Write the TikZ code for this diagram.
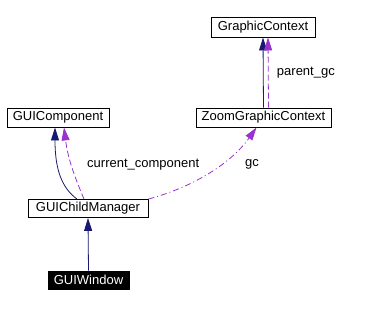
\documentclass[tikz,border=0pt]{standalone}
\usepackage{fontspec}
\setmainfont{Liberation Sans}
\usetikzlibrary{arrows.meta}
\definecolor{navyedge}{HTML}{191970}
\definecolor{usedge}{HTML}{9A32CD}
\tikzset{
  cbox/.style={rectangle, draw=black, fill=white, line width=0.9pt,
               font=\fontsize{13}{15}\selectfont,
               inner sep=0pt, minimum height=19pt},
  cboxH/.style={cbox, fill=black, text=white},
  inh/.style={-{Triangle[length=13pt,width=8pt]}, navyedge, line width=0.8pt},
  usg/.style={-{Triangle[length=13pt,width=8pt]}, usedge, line width=0.8pt,
              dash pattern=on 6pt off 3pt},
  usgd/.style={usg, dash pattern=on 6pt off 3pt on 1pt off 3pt},
  elab/.style={font=\fontsize{13}{15}\selectfont, text=black}
}
\begin{document}
\begin{tikzpicture}[x=1pt, y=-1pt]
\useasboundingbox (0,0) rectangle (372,308);
\node[cbox, minimum width=104pt, minimum height=20pt] (gctx) at (263,27) {GraphicContext};
\node[cbox, minimum width=135pt] (zgctx) at (263.5,117.5) {ZoomGraphicContext};
\node[cbox, minimum width=102pt] (guicomp) at (58,117.5) {GUIComponent};
\node[cbox, minimum width=120pt, minimum height=18pt] (childmgr) at (88,208.5) {GUIChildManager};
\node[cboxH, minimum width=81pt, minimum height=18pt] (guiwin) at (88.5,280) {GUIWindow};
% inheritance
\draw[inh] (guiwin.north) -- (childmgr.south);
\draw[inh] ([xshift=-11pt]childmgr.north) .. controls (62,188) and (55,170) .. ([xshift=-3pt]guicomp.south);
\draw[inh] (zgctx.north) -- (gctx.south);
% usage
\draw[usg] ([xshift=-4pt]childmgr.north) .. controls (76,180) and (68,160) .. ([xshift=6pt]guicomp.south)
  node[elab, pos=0.55, right=12pt] {current\_component};
\draw[usgd] (childmgr.north east) .. controls (190,188) and (230,165) .. ([xshift=-7pt]zgctx.south);
\node[elab] (gclab) at (252,164) {gc};
\draw[usg] ([xshift=5pt]zgctx.north) -- ([xshift=5pt]gctx.south)
  node[elab, midway, right=5pt] {parent\_gc};
\end{tikzpicture}
\end{document}
